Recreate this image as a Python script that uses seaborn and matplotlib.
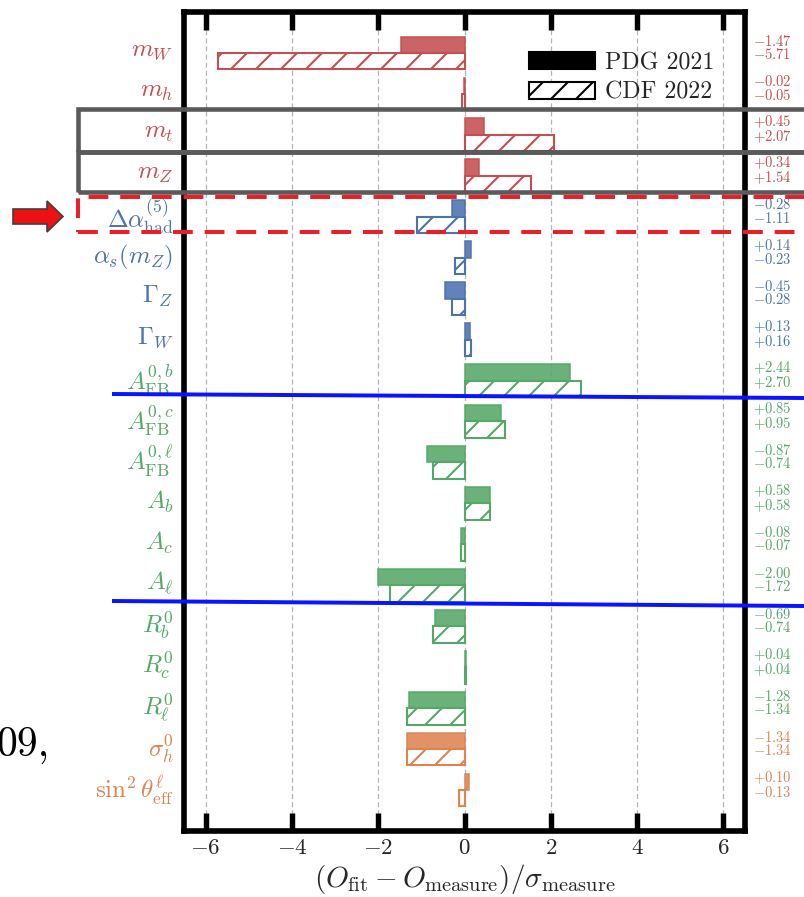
import numpy as np
import pandas as pd
import matplotlib
matplotlib.use("Agg")
import matplotlib.pyplot as plt
import seaborn as sns
from matplotlib.patches import Patch, Rectangle, Polygon
from matplotlib.lines import Line2D
from matplotlib.colors import to_rgba
import matplotlib.transforms as mtransforms

# ---------------- data ----------------
observables = [
    r"$m_W$", r"$m_h$", r"$m_t$", r"$m_Z$",
    r"$\Delta\alpha^{(5)}_{\mathrm{had}}$", r"$\alpha_s(m_Z)$", r"$\Gamma_Z$", r"$\Gamma_W$",
    r"$A^{0,b}_{\mathrm{FB}}$", r"$A^{0,c}_{\mathrm{FB}}$", r"$A^{0,\ell}_{\mathrm{FB}}$",
    r"$A_b$", r"$A_c$", r"$A_\ell$", r"$R^0_b$", r"$R^0_c$", r"$R^0_\ell$",
    r"$\sigma^0_h$", r"$\sin^2\theta^\ell_{\mathrm{eff}}$",
]
pdg_2021 = [-1.47, -0.02, 0.45, 0.34, -0.28, 0.14, -0.45, 0.13, 2.44, 0.85, -0.87,
            0.58, -0.08, -2.00, -0.69, 0.04, -1.28, -1.34, 0.10]
cdf_2022 = [-5.71, -0.05, 2.07, 1.54, -1.11, -0.23, -0.28, 0.16, 2.70, 0.95, -0.74,
            0.58, -0.07, -1.72, -0.74, 0.04, -1.34, -1.34, -0.13]
groups = ["red"] * 4 + ["blue"] * 4 + ["green"] * 9 + ["orange"] * 2
series_names = ["PDG 2021", "CDF 2022"]
x_ticks = [-6, -4, -2, 0, 2, 4, 6]

# ---------------- style ----------------
sns.set_theme(style="ticks")
DPI = 150
plt.rcParams.update({
    "font.family": "serif",
    "font.serif": ["cmr10", "DejaVu Serif"],
    "mathtext.fontset": "cm",
    "axes.formatter.use_mathtext": True,
    "axes.unicode_minus": True,
    "hatch.linewidth": 1.0,
})
pal = sns.color_palette("deep")
group_colors = {"blue": pal[0], "orange": pal[1], "green": pal[2], "red": pal[3]}

df = pd.DataFrame({
    "obs": observables * 2,
    "pull": pdg_2021 + cdf_2022,
    "source": [series_names[0]] * len(observables) + [series_names[1]] * len(observables),
})

W, H = 804, 897
fig = plt.figure(figsize=(W / DPI, H / DPI), dpi=DPI)
ax = fig.add_axes([184 / W, 1 - 831 / H, (745 - 184) / W, (831 - 12) / H])

sns.barplot(data=df, x="pull", y="obs", hue="source", orient="h", order=observables,
            hue_order=series_names, dodge=True, width=0.8, errorbar=None,
            legend=False, ax=ax)

# recolour bars by group
for i, bar in enumerate(ax.containers[0]):
    c = group_colors[groups[i]]
    bar.set_facecolor(to_rgba(c, 0.88))
    bar.set_edgecolor(to_rgba(c, 0.88))
    bar.set_linewidth(0.8)
for i, bar in enumerate(ax.containers[1]):
    c = group_colors[groups[i]]
    bar.set_facecolor("white")
    bar.set_edgecolor(c)
    bar.set_hatch("//")
    bar.set_linewidth(1.0)

ax.set_xlim(-6.5, 6.5)
ax.set_ylim(len(observables), -1)
ax.set_xticks(x_ticks)
ax.set_axisbelow(True)
ax.grid(axis="x", ls=(0, (4, 2.5)), color="#b5b5b5", lw=0.6)
ax.grid(axis="y", visible=False)

for s in ax.spines.values():
    s.set_visible(True)
    s.set_linewidth(2.7)
    s.set_color("black")
ax.tick_params(axis="x", which="major", direction="in", top=True, bottom=True,
               length=8.6, width=2.6, labelsize=11, pad=3.5, color="black")
ax.tick_params(axis="y", length=0, labelsize=12, pad=5)
ax.set_ylabel("")
ax.set_xlabel(r"$(O_{\mathrm{fit}}-O_{\mathrm{measure}})/\sigma_{\mathrm{measure}}$",
              fontsize=14, labelpad=2)

shift_up = mtransforms.ScaledTranslation(0, 5 / DPI, fig.dpi_scale_trans)
for lab, g in zip(ax.get_yticklabels(), groups):
    lab.set_color(group_colors[g])
    lab.set_transform(lab.get_transform() + shift_up)

# right-hand values (PDG above, CDF below)
for i, (a, b) in enumerate(zip(pdg_2021, cdf_2022)):
    c = group_colors[groups[i]]
    ax.text(1.014, i - 0.13, f"${a:+.2f}$\n${b:+.2f}$", transform=ax.get_yaxis_transform(),
            ha="left", va="center", fontsize=7, color=c, clip_on=False, linespacing=0.85)

handles = [Patch(facecolor="black", edgecolor="black"),
           Patch(facecolor="white", edgecolor="black", hatch="//", lw=1.0)]
ax.legend(handles, series_names, loc="upper right", bbox_to_anchor=(0.945, 0.951),
          frameon=False, fontsize=11.5, handlelength=2.75, handleheight=0.7,
          handletextpad=0.4, labelspacing=0.3, borderpad=0, borderaxespad=0)

# ---------------- overlay annotations (screenshot markup) ----------------
def fx(x):
    return x / W

def fy(y):
    return 1 - y / H

gray = "#5a5a5a"
for (y0, y1) in [(109, 152), (152, 192)]:
    fig.add_artist(Rectangle((fx(78), fy(y1)), fx(900) - fx(78), fy(y0) - fy(y1),
                             transform=fig.transFigure, fill=False, ec=gray, lw=2.2, zorder=10))
fig.add_artist(Rectangle((fx(78), fy(232)), fx(900) - fx(78), fy(197) - fy(232),
                         transform=fig.transFigure, fill=False, ec="#ee1c25", lw=1.9,
                         ls=(0, (5, 3)), zorder=11))
for (xa, ya, xb, yb) in [(112, 394, 804, 398), (112, 601, 804, 606)]:
    fig.add_artist(Line2D([fx(xa), fx(xb)], [fy(ya), fy(yb)], transform=fig.transFigure,
                          color="#0a14ff", lw=1.9, zorder=12, solid_capstyle="butt"))
arrow_px = [(13, 209), (47, 209), (47, 201), (63, 216.5), (47, 232), (47, 224), (13, 224)]
fig.add_artist(Polygon([(fx(x), fy(y)) for x, y in arrow_px], closed=True,
                       transform=fig.transFigure, fc="#ee1111", ec="#404040", lw=0.8, zorder=12))
fig.text(fx(50), fy(756), "09,", ha="right", va="baseline", fontsize=20, color="black")

fig.savefig("out.png", dpi=DPI)
